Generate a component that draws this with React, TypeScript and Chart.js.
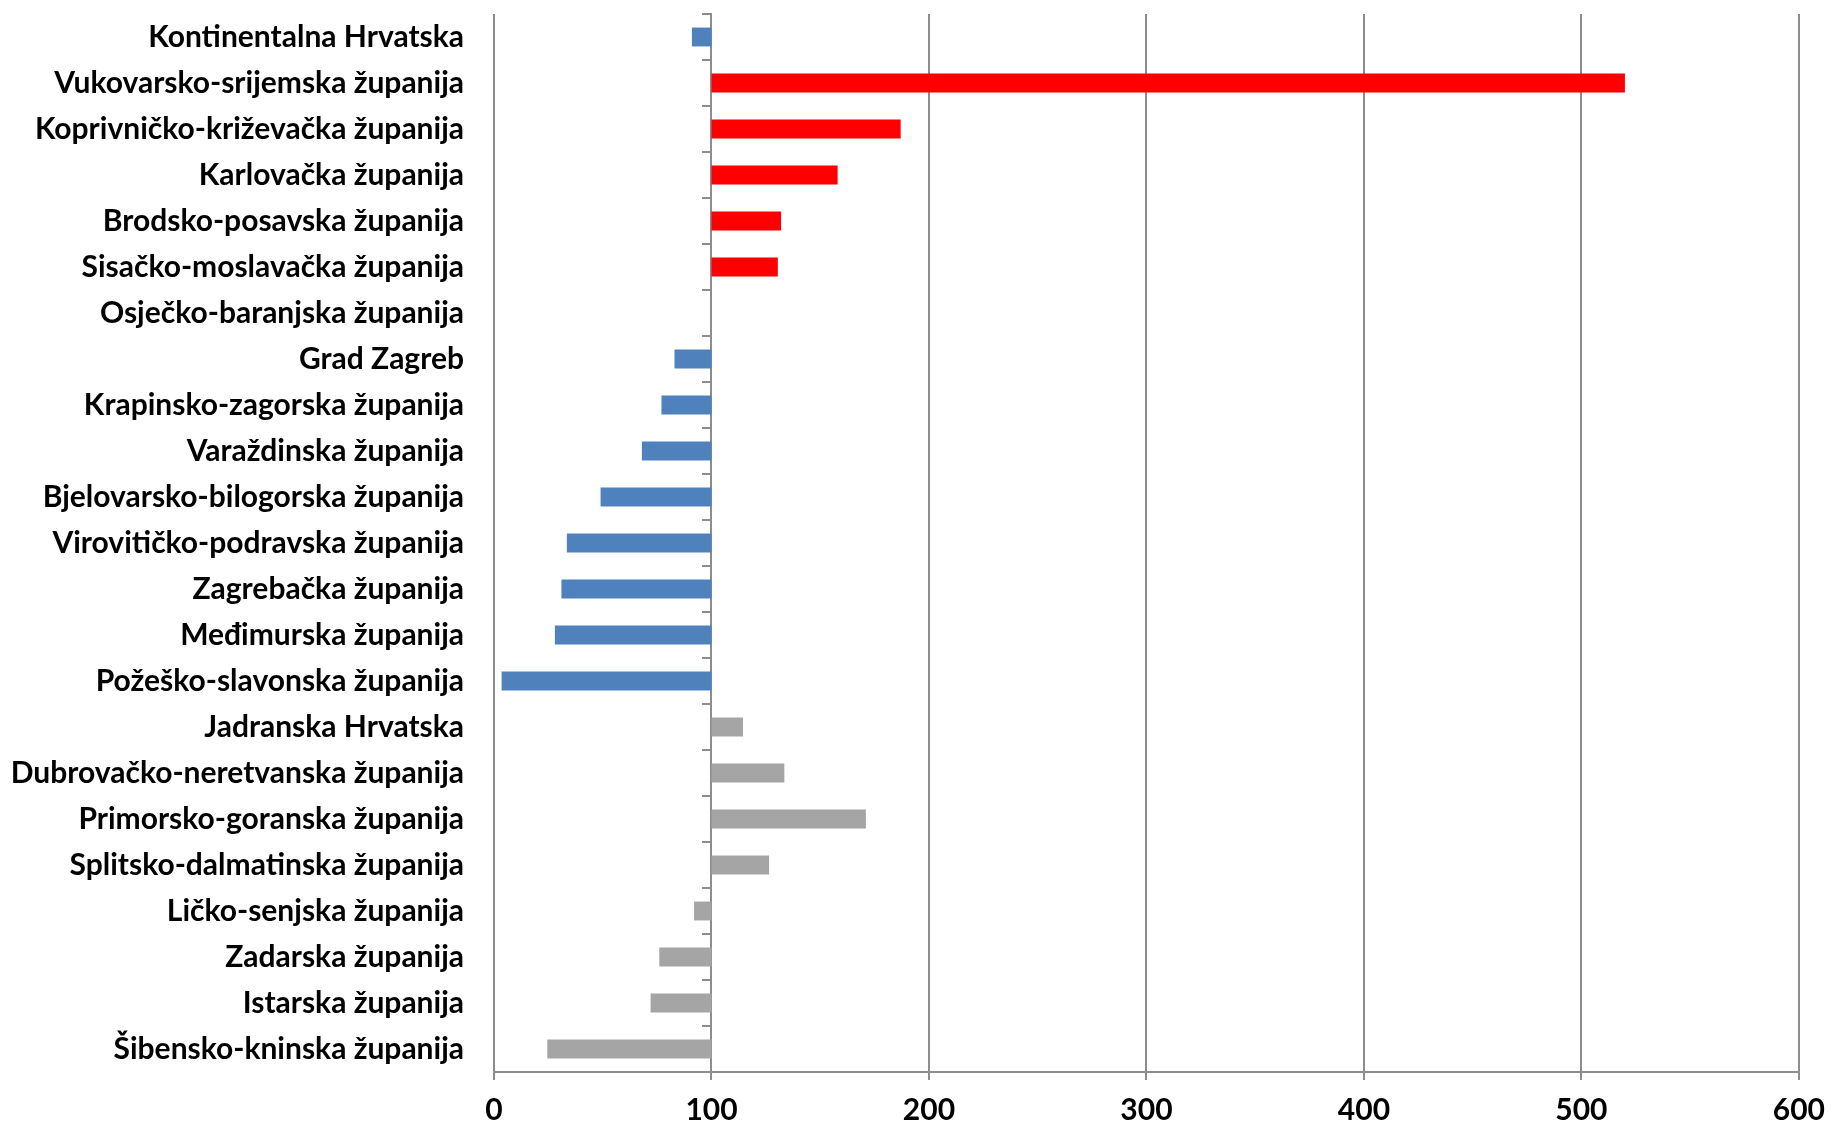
import React, { useEffect, useRef } from "react";
import { Chart, registerables } from "chart.js";

Chart.register(...registerables);

const categories: string[] = [
  "Kontinentalna Hrvatska",
  "Vukovarsko-srijemska županija",
  "Koprivničko-križevačka županija",
  "Karlovačka županija",
  "Brodsko-posavska županija",
  "Sisačko-moslavačka županija",
  "Osječko-baranjska županija",
  "Grad Zagreb",
  "Krapinsko-zagorska županija",
  "Varaždinska županija",
  "Bjelovarsko-bilogorska županija",
  "Virovitičko-podravska županija",
  "Zagrebačka županija",
  "Međimurska županija",
  "Požeško-slavonska županija",
  "Jadranska Hrvatska",
  "Dubrovačko-neretvanska županija",
  "Primorsko-goranska županija",
  "Splitsko-dalmatinska županija",
  "Ličko-senjska županija",
  "Zadarska županija",
  "Istarska županija",
  "Šibensko-kninska županija",
];

const values: number[] = [
  91, 520, 187, 158, 132, 130.5, 100, 83, 77, 68, 49, 33.5, 31, 28, 3.5,
  114.5, 133.5, 171, 126.5, 92, 76, 72, 24.5,
];

// colour group per category: k = continental (blue), r = highlighted (red), a = adriatic (grey)
const groups: string[] = [
  "k", "r", "r", "r", "r", "r", "k", "k", "k", "k", "k", "k", "k", "k", "k",
  "a", "a", "a", "a", "a", "a", "a", "a",
];

const baseline = 100;
const xTicks: number[] = [0, 100, 200, 300, 400, 500, 600];

const groupColors: Record<string, string> = {
  k: "#4F81BD",
  r: "#FF0000",
  a: "#A5A5A5",
};

export default function App() {
  const ref = useRef<HTMLCanvasElement | null>(null);

  useEffect(() => {
    if (!ref.current) return;
    const font = { family: "Lato, 'DejaVu Sans Condensed', sans-serif", size: 30, weight: "bold" as const };
    const chart = new Chart(ref.current, {
      type: "bar",
      data: {
        labels: categories,
        datasets: [
          {
            data: values.map((v) => [baseline, v]) as any,
            backgroundColor: groups.map((g) => groupColors[g]),
            borderWidth: 0,
            categoryPercentage: 1,
            barPercentage: 0.41,
            yAxisID: "y",
          },
        ],
      },
      options: {
        indexAxis: "y",
        animation: false,
        responsive: true,
        maintainAspectRatio: false,
        layout: { padding: { top: 14, right: 29, bottom: 0, left: 0 } },
        plugins: { legend: { display: false }, tooltip: { enabled: false } },
        scales: {
          x: {
            type: "linear",
            min: 0,
            max: 600,
            afterBuildTicks: (s: any) => {
              s.ticks = xTicks.map((v) => ({ value: v }));
            },
            afterFit: (s: any) => {
              s.height = 54;
            },
            grid: { color: "#8C8C8C", lineWidth: 2, tickLength: 8, drawTicks: true },
            border: { display: true, color: "#8C8C8C", width: 2 },
            ticks: { color: "#000", font, padding: 12, maxRotation: 0 },
          },
          y: {
            type: "category",
            position: "left",
            afterFit: (s: any) => {
              s.width = 494;
              s.paddingTop = 0;
              s.paddingBottom = 0;
            },
            grid: { display: false, drawTicks: true, tickLength: 30 },
            border: { display: false },
            ticks: { color: "#000", font, padding: 0, autoSkip: false },
          },
          y2: {
            type: "category",
            position: { x: baseline } as any,
            grid: { display: true, drawOnChartArea: false, offset: true, color: "#8C8C8C", lineWidth: 2, tickLength: 8 },
            border: { display: true, color: "#8C8C8C", width: 2 },
            ticks: { display: false },
          },
        },
      },
    });
    return () => chart.destroy();
  }, []);

  return (
    <div style={{ position: "fixed", left: 0, top: 0, width: 1837, height: 1126, background: "#fff" }}>
      <canvas ref={ref} />
    </div>
  );
}
